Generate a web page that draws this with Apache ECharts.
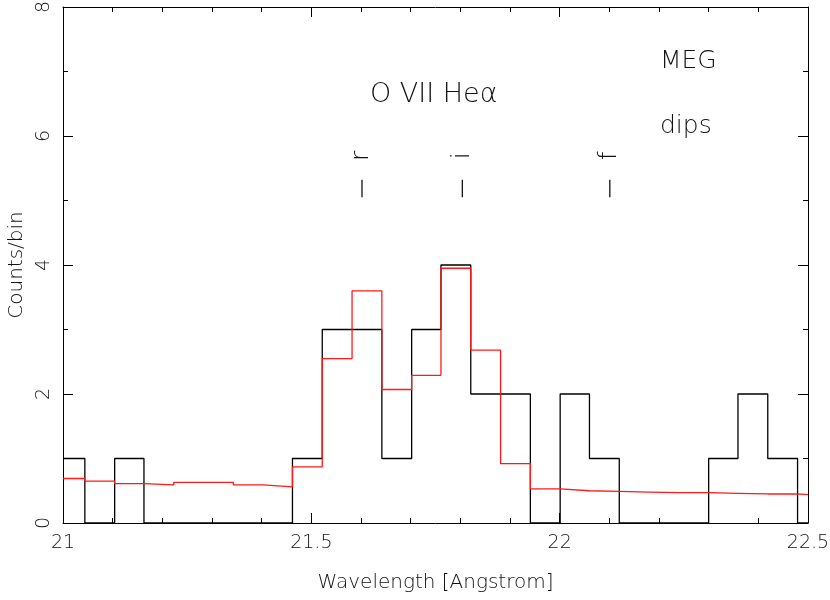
<!DOCTYPE html>
<html>
<head>
<meta charset="utf-8">
<script src="https://cdn.jsdelivr.net/npm/echarts@6/dist/echarts.min.js"></script>
<style>html,body{margin:0;padding:0;background:#fff;}#chart{width:830px;height:600px;}</style>
</head>
<body>
<div id="chart"></div>
<script>
// Bin edges (Angstrom)
const binEdges = [21.0, 21.044, 21.104, 21.163, 21.223, 21.283, 21.343, 21.403, 21.462, 21.522, 21.582, 21.642, 21.702, 21.761, 21.821, 21.881, 21.941, 22.001, 22.060, 22.120, 22.180, 22.240, 22.300, 22.359, 22.419, 22.479, 22.5];
// Observed counts per bin (black)
const counts = [1, 0, 1, 0, 0, 0, 0, 0, 1, 3, 3, 1, 3, 4, 2, 2, 0, 2, 1, 0, 0, 0, 1, 2, 1, 0];
// Model per bin (red)
const model = [0.69, 0.65, 0.61, 0.59, 0.63, 0.63, 0.59, 0.56, 0.87, 2.55, 3.60, 2.07, 2.29, 3.95, 2.68, 0.92, 0.53, 0.50, 0.49, 0.48, 0.47, 0.47, 0.46, 0.45, 0.45, 0.44];
// Line identifications
const lineNames = ['r', 'i', 'f'];
const lineWaves = [21.602, 21.804, 22.101];
// Axis ticks
const xTicks = [21, 21.5, 22, 22.5];
const yTicks = [0, 2, 4, 6, 8];

function stepData(vals) {
  const d = vals.map((v, i) => [binEdges[i], v]);
  d.push([binEdges[binEdges.length - 1], vals[vals.length - 1]]);
  return d;
}

const chart = echarts.init(document.getElementById('chart'), null, {renderer: 'canvas'});
const txtColor = '#111';
const annFont = '200 25px "DejaVu Sans"';

const baseX = {
  type: 'value', min: xTicks[0], max: xTicks[xTicks.length - 1], interval: 0.5,
  axisLine: {show: true, onZero: false, lineStyle: {color: '#000', width: 1}},
  axisTick: {show: true, inside: true, length: 10, lineStyle: {color: '#000'}},
  minorTick: {show: true, splitNumber: 5, length: 5, lineStyle: {color: '#000'}},
  splitLine: {show: false}, minorSplitLine: {show: false}
};
const baseY = {
  type: 'value', min: yTicks[0], max: yTicks[yTicks.length - 1], interval: 2,
  axisLine: {show: true, onZero: false, lineStyle: {color: '#000', width: 1}},
  axisTick: {show: true, inside: true, length: 10, lineStyle: {color: '#000'}},
  minorTick: {show: true, splitNumber: 2, length: 5, lineStyle: {color: '#000'}},
  splitLine: {show: false}, minorSplitLine: {show: false}
};

chart.setOption({
  animation: false,
  backgroundColor: '#fff',
  grid: {left: 63, right: 22, top: 7, bottom: 77, containLabel: false, outerBoundsMode: 'none'},
  xAxis: [
    Object.assign({}, baseX, {
      position: 'bottom',
      name: 'Wavelength [Angstrom]', nameLocation: 'middle', nameGap: 50,
      nameTextStyle: {fontFamily: 'DejaVu Sans', fontWeight: 200, fontSize: 20, color: txtColor},
      axisLabel: {show: true, margin: 11, fontFamily: 'DejaVu Sans', fontWeight: 200, fontSize: 19, color: txtColor}
    }),
    Object.assign({}, baseX, {position: 'top', axisLabel: {show: false}})
  ],
  yAxis: [
    Object.assign({}, baseY, {
      position: 'left',
      name: 'Counts/bin', nameLocation: 'middle', nameGap: 36, nameRotate: 90,
      nameTextStyle: {fontFamily: 'DejaVu Sans', fontWeight: 200, fontSize: 20, color: txtColor},
      axisLabel: {show: true, rotate: 90, margin: 9, fontFamily: 'DejaVu Sans', fontWeight: 200, fontSize: 19, color: txtColor}
    }),
    Object.assign({}, baseY, {position: 'right', axisLabel: {show: false}})
  ],
  graphic: [
    {type: 'text', left: 370, top: 81, style: {text: 'O VII He\u03b1', font: '200 27px "DejaVu Sans"', fill: txtColor}},
    {type: 'text', left: 660, top: 49, style: {text: 'MEG', font: annFont, fill: txtColor}},
    {type: 'text', left: 660, top: 114, style: {text: 'dips', font: annFont, fill: txtColor}}
  ],
  series: [
    {
      type: 'line', name: 'data', step: 'end', data: stepData(counts),
      symbol: 'none', lineStyle: {color: '#000', width: 1.3}, z: 3
    },
    {
      type: 'line', name: 'model', step: 'end', data: stepData(model),
      symbol: 'none', lineStyle: {color: '#ff1a1a', width: 1.3}, z: 4
    },
    {
      type: 'custom', name: 'lines',
      data: lineWaves.map((w, i) => [w, lineNames[i]]),
      renderItem: function (params, api) {
        const x = api.value(0);
        const name = lineNames[params.dataIndex];
        const p0 = api.coord([x, 5.05]);
        const p1 = api.coord([x, 5.32]);
        return {
          type: 'group',
          children: [
            {type: 'line', shape: {x1: p0[0], y1: p0[1], x2: p1[0], y2: p1[1]}, style: {stroke: '#000', lineWidth: 1.2}},
            {type: 'text', x: p0[0], y: p1[1] - 24, rotation: Math.PI / 2,
              style: {text: name, font: annFont, fill: txtColor, align: 'center', verticalAlign: 'middle'}}
          ]
        };
      },
      z: 5
    }
  ]
});
</script>
</body>
</html>
